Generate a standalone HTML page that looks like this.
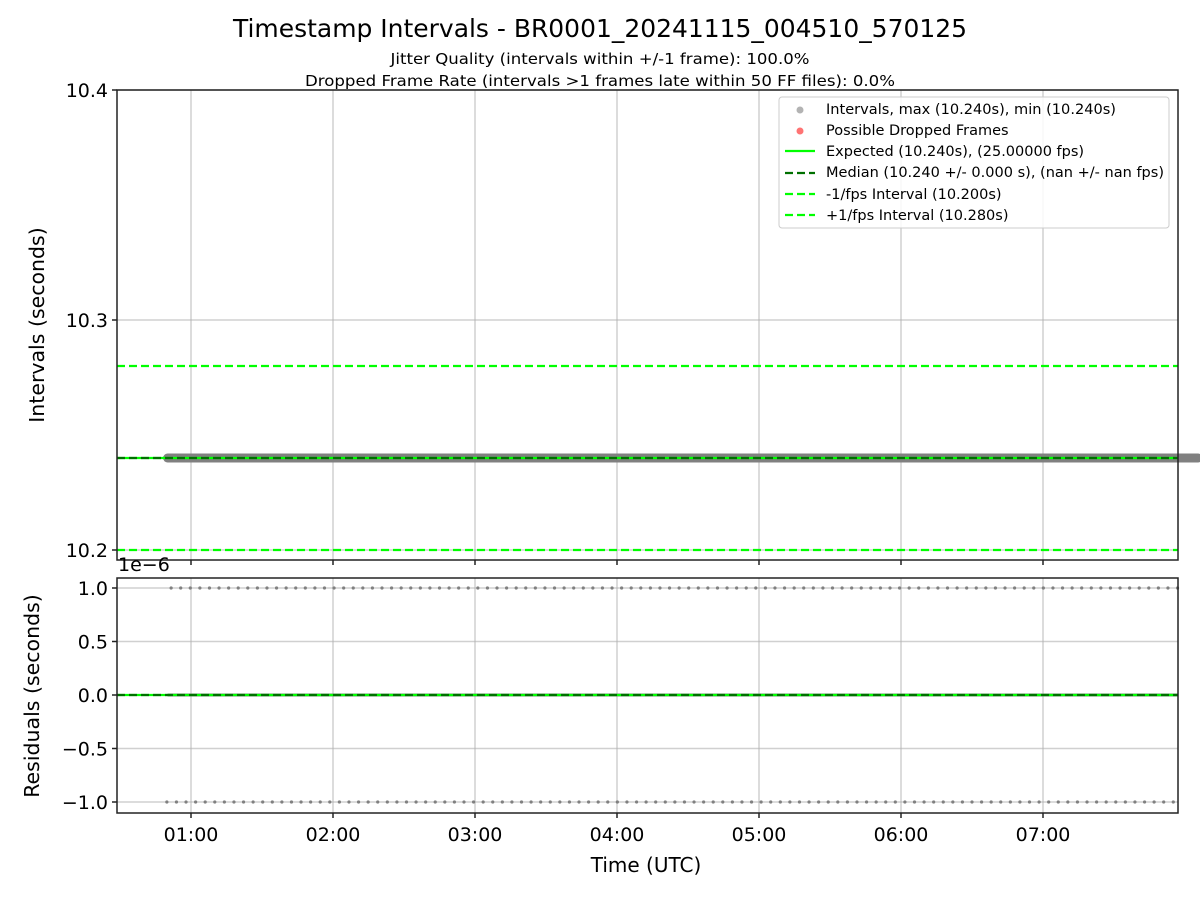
<!DOCTYPE html>
<html><head><meta charset="utf-8"><style>
body{margin:0;background:#fff}
svg{display:block;font-family:"DejaVu Sans","Liberation Sans",sans-serif}
</style></head><body>
<div style="position:relative;width:1200px;height:900px">
<svg id="chart" width="1200" height="900">
<rect width="1200" height="900" fill="#fff"/>
<text x="600" y="37" font-size="25" text-anchor="middle" textLength="734" lengthAdjust="spacingAndGlyphs">Timestamp Intervals - BR0001_20241115_004510_570125</text>
<text x="600" y="64" font-size="15" text-anchor="middle" textLength="419" lengthAdjust="spacingAndGlyphs">Jitter Quality (intervals within +/-1 frame): 100.0%</text>
<text x="600" y="86" font-size="15" text-anchor="middle" textLength="590" lengthAdjust="spacingAndGlyphs">Dropped Frame Rate (intervals &gt;1 frames late within 50 FF files): 0.0%</text>
<g id="gtop"></g>
<g id="gbot"></g>
</svg>
<svg width="1200" height="900" style="position:absolute;left:0;top:0;pointer-events:none">
<text x="118" y="571" font-size="19">1e−6</text>
<text x="646" y="872" font-size="20" text-anchor="middle">Time (UTC)</text>
<text transform="translate(44,325) rotate(-90)" font-size="20.5" text-anchor="middle">Intervals (seconds)</text>
<text transform="translate(39,696) rotate(-90)" font-size="20.5" text-anchor="middle">Residuals (seconds)</text>
<g font-size="14.5">
<rect x="779" y="97" width="390" height="131" rx="3" fill="#fff" fill-opacity="0.85" stroke="#ccc"/>
<circle cx="800" cy="110" r="3.5" fill="#808080" fill-opacity="0.6"/><text x="826" y="114" textLength="290" lengthAdjust="spacingAndGlyphs">Intervals, max (10.240s), min (10.240s)</text>
<circle cx="800" cy="131" r="3.5" fill="#ff0000" fill-opacity="0.55"/><text x="826" y="135">Possible Dropped Frames</text>
<line x1="785" x2="815" y1="151" y2="151" stroke="#00ff00" stroke-width="2.2"/><text x="826" y="156">Expected (10.240s), (25.00000 fps)</text>
<line x1="785" x2="815" y1="173" y2="173" stroke="#007000" stroke-width="2.2" stroke-dasharray="8,4"/><text x="826" y="177" textLength="338" lengthAdjust="spacingAndGlyphs">Median (10.240 +/- 0.000 s), (nan +/- nan fps)</text>
<line x1="785" x2="815" y1="194" y2="194" stroke="#00ff00" stroke-width="2.2" stroke-dasharray="8,4"/><text x="826" y="199">-1/fps Interval (10.200s)</text>
<line x1="785" x2="815" y1="215" y2="215" stroke="#00ff00" stroke-width="2.2" stroke-dasharray="8,4"/><text x="826" y="220">+1/fps Interval (10.280s)</text>
</g>
</svg>
</div>
<script>
// data (times in hours UTC)
const xTickHours = [1,2,3,4,5,6,7];
const xTickLabels = ["01:00","02:00","03:00","04:00","05:00","06:00","07:00"];
const topTicks = [10.2,10.3,10.4];
const topTickLabels = ["10.2","10.3","10.4"];
const botTicks = [-1,-0.5,0,0.5,1];
const botTickLabels = ["−1.0","−0.5","0.0","0.5","1.0"];
const intervalStart = 0.835, intervalEnd = 7.95;
const intervalValue = 10.24;
const expectedValue = 10.24, medianValue = 10.24, minusFpsValue = 10.2, plusFpsValue = 10.28;
const residualPosStart = 0.86, residualNegStart = 0.83, residualStep = 0.0675, residualEnd = 7.95;
const residualPos = 1, residualNeg = -1, residualZero = 0;

const NS="http://www.w3.org/2000/svg";
const L=117,R=1178,T1=90,B1=560,T2=578,B2=813;
const xs=h=>191+(h-1)*142;
const y1=v=>320-(v-10.3)*2300;
const y2=v=>695-v*107;
function el(p,t,a){const e=document.createElementNS(NS,t);for(const k in a)e.setAttribute(k,a[k]);p.appendChild(e);return e;}
const gTop=document.getElementById('gtop'),gBot=document.getElementById('gbot');
const svgRoot=document.getElementById('chart');
function grid(g,T,B,yf,ticks,labels,name){
  xTickHours.forEach(h=>{const l=el(g,'line',{x1:xs(h),x2:xs(h),y1:T,y2:B,stroke:'#b0b0b0','stroke-opacity':0.6,'stroke-width':1.5});
  
  });
  ticks.forEach((v,i)=>{const yy=yf(v);
    const l=el(g,'line',{x1:L,x2:R,y1:yy,y2:yy,stroke:'#b0b0b0','stroke-opacity':0.6,'stroke-width':1.5});
    
    
    el(g,'line',{x1:L-5,x2:L,y1:yy,y2:yy,stroke:'#222','stroke-width':1.5});
    const t=el(g,'text',{x:L-9,y:yy+7,'font-size':19,'text-anchor':'end'});t.textContent=labels[i];
    
    });
}
grid(gTop,T1,B1,y1,topTicks,topTickLabels,'intervals-y');
grid(gBot,T2,B2,y2,botTicks,botTickLabels,'residuals-y');
function hline(g,yy,col,w,dash,name){const l=el(g,'line',{x1:L,x2:R,y1:yy,y2:yy,stroke:col,'stroke-width':w});if(dash)l.setAttribute('stroke-dasharray',dash);

return l;}
hline(gTop,y1(plusFpsValue),'#00ff00',2.2,'8,4','plus-fps-line');
hline(gTop,y1(minusFpsValue),'#00ff00',2.2,'8,4','minus-fps-line');
const il=el(gTop,'line',{x1:xs(intervalStart),x2:xs(intervalEnd)+20,y1:y1(intervalValue),y2:y1(intervalValue),stroke:'#808080','stroke-width':9,'stroke-linecap':'round'});


hline(gTop,y1(expectedValue),'#00ff00',2.2,null,'expected-line');
hline(gTop,y1(medianValue),'#007000',2.2,'8,4','median-line');
function dots(start,val){for(let h=start;h<=residualEnd;h+=residualStep){const c=el(gBot,'circle',{cx:xs(h),cy:y2(val),r:1.6,fill:'#808080'});

}}
dots(residualPosStart,residualPos);
dots(residualNegStart,residualNeg);
const zl=el(gBot,'line',{x1:xs(intervalStart),x2:R,y1:y2(residualZero),y2:y2(residualZero),stroke:'#808080','stroke-width':3});


hline(gBot,y2(residualZero),'#00ff00',2.2,null,'residual-expected-line');
hline(gBot,y2(residualZero),'#007000',2.2,'8,4','residual-median-line');
[[T1,B1],[T2,B2]].forEach(([T,B])=>{el(svgRoot,'rect',{x:L,y:T,width:R-L,height:B-T,fill:'none',stroke:'#222','stroke-width':1.5});});
xTickHours.forEach((h,i)=>{el(svgRoot,'line',{x1:xs(h),x2:xs(h),y1:B1,y2:B1+5,stroke:'#222','stroke-width':1.5});
el(svgRoot,'line',{x1:xs(h),x2:xs(h),y1:B2,y2:B2+5,stroke:'#222','stroke-width':1.5});
const t=el(svgRoot,'text',{x:xs(h),y:841,'font-size':19,'text-anchor':'middle'});t.textContent=xTickLabels[i];

});
</script>
</body></html>
